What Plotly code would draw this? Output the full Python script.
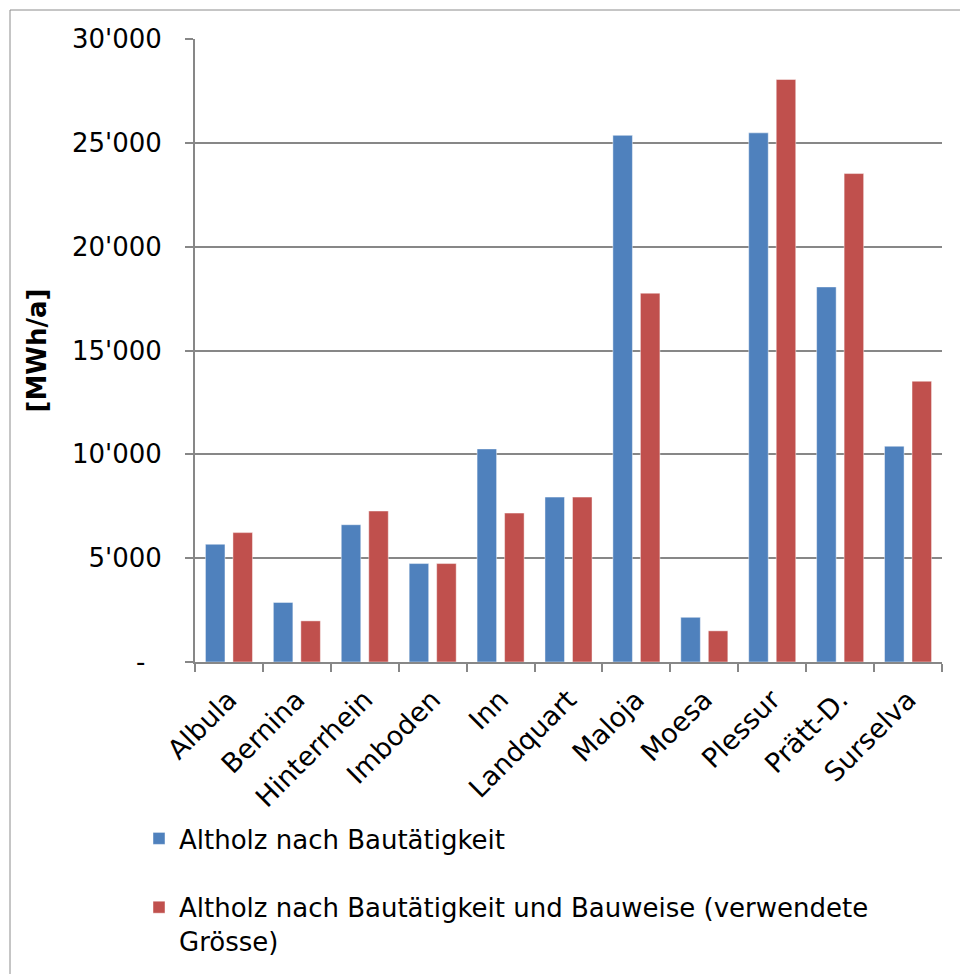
import plotly.graph_objects as go

# Regions (Regionen) and annual waste-wood potential in MWh/a
regions = ["Albula", "Bernina", "Hinterrhein", "Imboden", "Inn", "Landquart",
           "Maloja", "Moesa", "Plessur", "Prätt-D.", "Surselva"]
altholz_bautaetigkeit = [5670, 2870, 6610, 4740, 10260, 7940,
                         25360, 2150, 25480, 18060, 10390]
altholz_bauweise = [6230, 1980, 7270, 4740, 7170, 7940,
                    17760, 1500, 28050, 23520, 13520]

series_names = ["Altholz nach Bautätigkeit",
                "Altholz nach Bautätigkeit und Bauweise (verwendete<br>Grösse)"]
series_colors = ["#4F81BD", "#C0504D"]

y_ticks = [0, 5000, 10000, 15000, 20000, 25000, 30000]


def swiss_fmt(v):
    # Swiss thousands separator; zero shown as a dash (accounting style)
    if v == 0:
        return "-\u00a0\u00a0"
    return f"{v:,}".replace(",", "'")


y_ticktext = [swiss_fmt(v) for v in y_ticks]

W, H = 960, 974
M_L, M_R, M_T, M_B = 195, 18, 39, 312
plot_w = W - M_L - M_R
plot_h = H - M_T - M_B

FONT = "DejaVu Sans"
GRID = "#878787"

fig = go.Figure()
for name, vals, col, grp in zip(series_names,
                                [altholz_bautaetigkeit, altholz_bauweise],
                                series_colors, ["a", "b"]):
    fig.add_trace(go.Bar(
        x=regions, y=vals, name=name, legendgroup=grp,
        marker=dict(color=col, line=dict(color="rgba(255,255,255,0.45)", width=1)),
    ))

# outer chart frame
fig.add_shape(type="rect", xref="paper", yref="paper",
              x0=(10 - M_L) / plot_w, x1=(W + 20 - M_L) / plot_w,
              y0=-(H + 20 - (H - M_B)) / plot_h, y1=(H - M_B - 10) / plot_h,
              line=dict(color="#8c8c8c", width=1), fillcolor="rgba(0,0,0,0)",
              layer="below")

fig.update_layout(
    width=W, height=H,
    margin=dict(l=M_L, r=M_R, t=M_T, b=M_B, autoexpand=False),
    paper_bgcolor="white", plot_bgcolor="white",
    font=dict(family=FONT, size=26, color="black"),
    barmode="group", bargap=0.19, bargroupgap=0.29,
    showlegend=True,
    legend=dict(
        orientation="v", x=(139 - M_L) / plot_w, xanchor="left",
        y=-(815 - (H - M_B)) / plot_h, yanchor="top",
        font=dict(family=FONT, size=26, color="black"),
        tracegroupgap=32, valign="top", bgcolor="rgba(0,0,0,0)",
        traceorder="grouped",
    ),
    xaxis=dict(
        showline=True, linecolor=GRID, linewidth=2,
        ticks="outside", ticklen=8, tickcolor=GRID, tickwidth=2,
        tickson="boundaries", tickangle=-45,
        tickfont=dict(family=FONT, size=27, color="black"),
        ticklabelstandoff=9,
        showgrid=False, automargin=False,
    ),
    yaxis=dict(
        range=[0, 30000], tickvals=y_ticks, ticktext=y_ticktext,
        showline=True, linecolor=GRID, linewidth=2,
        ticks="outside", ticklen=8, tickcolor=GRID, tickwidth=2,
        showgrid=True, gridcolor=GRID, gridwidth=2,
        zeroline=False,
        tickfont=dict(family=FONT, size=26, color="black"),
        ticklabelstandoff=18,
        title=dict(text="<b>[MWh/a]</b>", font=dict(family=FONT, size=26, color="black"),
                   standoff=18),
        automargin=False,
    ),
)

fig.write_html("out.html")
